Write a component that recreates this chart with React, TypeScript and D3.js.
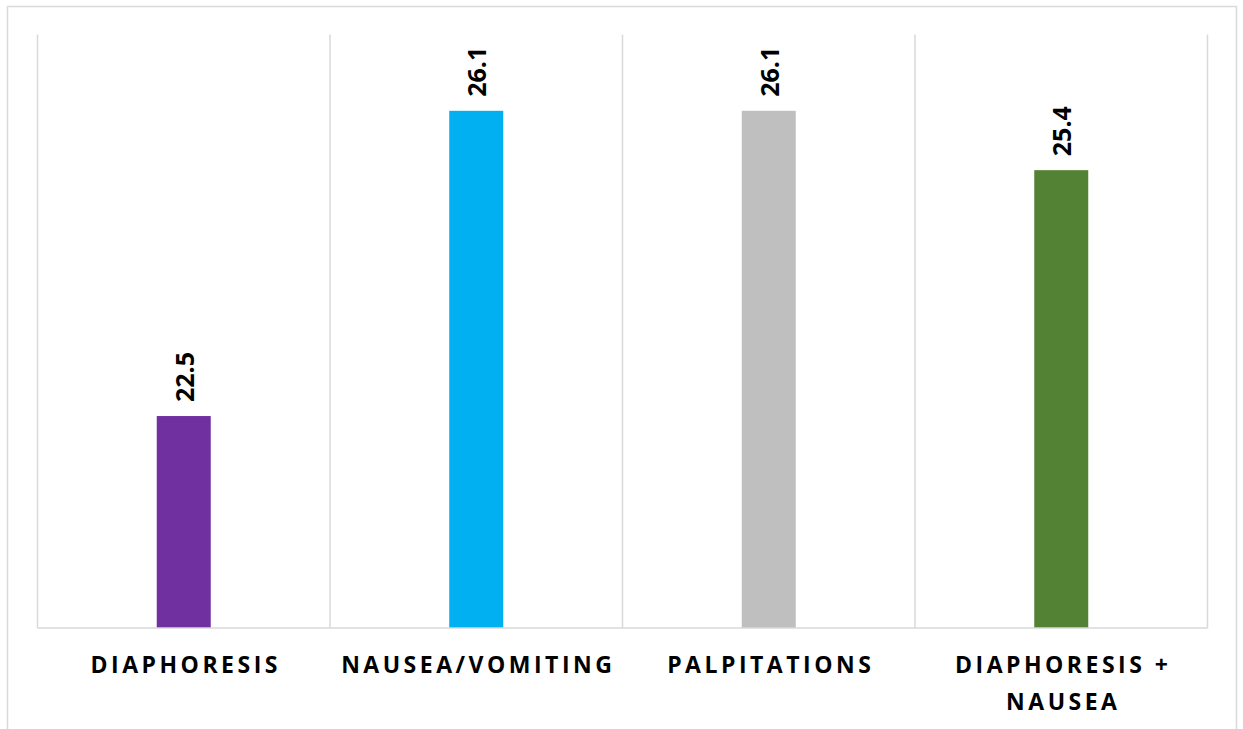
import React, { useEffect, useRef } from "react";
import * as d3 from "d3";

const categories: string[][] = [
  ["DIAPHORESIS"],
  ["NAUSEA/VOMITING"],
  ["PALPITATIONS"],
  ["DIAPHORESIS +", "NAUSEA"],
];
const values: number[] = [22.5, 26.1, 26.1, 25.4];
const colors: string[] = ["#7030A0", "#00B0F0", "#BFBFBF", "#548235"];
const yDomain: [number, number] = [20, 27];

const W = 1243;
const H = 729;
const margin = { left: 37.5, right: 35.5, top: 34.5, bottom: 101 };

export default function App() {
  const ref = useRef<SVGSVGElement>(null);

  useEffect(() => {
    document.body.style.margin = "0";
    const svg = d3.select(ref.current);
    svg.selectAll("*").remove();

    const x0 = margin.left;
    const x1 = W - margin.right;
    const y0 = margin.top;
    const y1 = H - margin.bottom;

    const x = d3
      .scaleBand<number>()
      .domain(d3.range(values.length))
      .range([x0, x1])
      .paddingInner(0)
      .paddingOuter(0);
    const y = d3.scaleLinear().domain(yDomain).range([y1, y0]);
    const barW = 54;

    // outer frame
    svg
      .append("rect")
      .attr("x", 7.5)
      .attr("y", 6.5)
      .attr("width", 1229)
      .attr("height", 740)
      .attr("fill", "#fff")
      .attr("stroke", "#D9D9D9")
      .attr("stroke-width", 1.5);

    // vertical category separators
    const seps = d3.range(values.length + 1).map((i) =>
      i < values.length ? (x(i) as number) : x1
    );
    svg
      .append("g")
      .selectAll("line")
      .data(seps)
      .join("line")
      .attr("x1", (d) => d)
      .attr("x2", (d) => d)
      .attr("y1", y0)
      .attr("y2", y1)
      .attr("stroke", "#D9D9D9")
      .attr("stroke-width", 1.5);

    // bars
    svg
      .append("g")
      .selectAll("rect")
      .data(values)
      .join("rect")
      .attr("x", (_, i) => (x(i) as number) + x.bandwidth() / 2 - barW / 2)
      .attr("y", (d) => y(d))
      .attr("width", barW)
      .attr("height", (d) => y1 - y(d))
      .attr("fill", (_, i) => colors[i]);

    // baseline
    svg
      .append("line")
      .attr("x1", x0)
      .attr("x2", x1)
      .attr("y1", y1)
      .attr("y2", y1)
      .attr("stroke", "#D9D9D9")
      .attr("stroke-width", 1.5);

    // value labels (rotated, aligned at their top end)
    svg
      .append("g")
      .selectAll("text")
      .data(values)
      .join("text")
      .attr("transform", (d, i) => {
        const cx = (x(i) as number) + x.bandwidth() / 2 + 1;
        const cy = y(d) - 64;
        return `translate(${cx},${cy}) rotate(-90)`;
      })
      .attr("dy", "0.36em")
      .attr("text-anchor", "end")
      .attr("font-family", "'Open Sans', sans-serif")
      .attr("font-weight", 700)
      .attr("font-size", 25)
      .attr("fill", "#000")
      .text((d) => d.toFixed(1));

    // category labels
    const lab = svg
      .append("g")
      .selectAll("text")
      .data(categories)
      .join("text")
      .attr("text-anchor", "middle")
      .attr("font-family", "'Open Sans', sans-serif")
      .attr("font-weight", 700)
      .attr("font-size", 23)
      .attr("letter-spacing", 3.5)
      .attr("fill", "#000");
    lab
      .selectAll("tspan")
      .data((d, i) => d.map((t) => ({ t, i })))
      .join("tspan")
      .attr("x", (d) => (x(d.i) as number) + x.bandwidth() / 2 + 2)
      .attr("y", (_, j) => 673 + j * 37)
      .text((d) => d.t);
  }, []);

  return (
    <svg
      ref={ref}
      width={W}
      height={H}
      style={{ display: "block", background: "#fff" }}
    />
  );
}
